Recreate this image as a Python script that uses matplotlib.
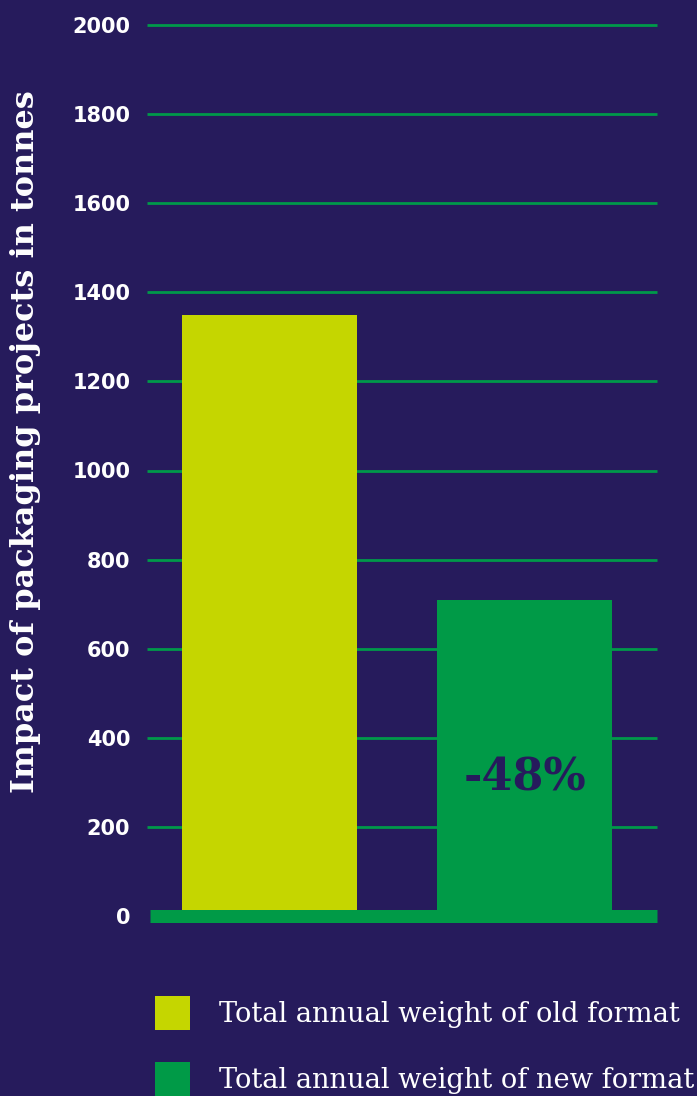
import matplotlib.pyplot as plt

plt.rcParams['font.family'] = 'DejaVu Sans'

# data
categories = ["Total annual weight of old format", "Total annual weight of new format"]
weights = [1350, 710]
bar_colors = ["#C5D600", "#009A47"]
yticks = [0, 200, 400, 600, 800, 1000, 1200, 1400, 1600, 1800, 2000]
change_label = "-48%"

bg = "#261B5C"
grid_green = "#00994A"

W, H = 697, 1096
fig = plt.figure(figsize=(W / 100, H / 100), dpi=100, facecolor=bg)

# axes box in pixel coords: x 147..657, y 25 (2000) .. 916 (0)
ax = fig.add_axes([147 / W, 1 - 916 / H, 510 / W, (916 - 25) / H])
ax.set_facecolor(bg)
ax.set_ylim(0, 2000)
ax.set_xlim(-0.482, 1.518)

for t in yticks[1:]:
    ax.axhline(t, color=grid_green, lw=2.0, zorder=1, clip_on=False,
               solid_capstyle="butt")

x = list(range(len(weights)))
bars = ax.bar(x, weights, width=0.686, color=bar_colors, zorder=2)

# thick baseline
ax.axhline(0, xmin=3 / 510, color="#009A47", lw=13 * 0.72, zorder=3, clip_on=False,
           solid_capstyle="butt")

ax.text(1, 310, change_label, ha="center", va="center", color=bg,
        fontsize=32, fontweight="bold", family="DejaVu Serif", zorder=4)

ax.set_yticks(yticks)
ax.set_yticklabels([str(t) for t in yticks], fontsize=15, fontweight="bold", color="white")
ax.tick_params(axis="y", length=0, pad=12)
ax.set_xticks([])
for s in ax.spines.values():
    s.set_visible(False)

fig.text(26 / W, 1 - 442 / H, "Impact of packaging projects in tonnes", rotation=90,
         ha="center", va="center", color="white", fontsize=23, fontweight="bold",
         family="DejaVu Serif")

leg = fig.legend(bars, categories, loc="upper left",
                 bbox_to_anchor=(155 / W, 1 - 996 / H), frameon=False,
                 borderpad=0, borderaxespad=0,
                 handlelength=1.29, handleheight=1.56, handletextpad=1.05,
                 labelspacing=1.15, prop={"family": "DejaVu Serif", "size": 19.6})
for txt in leg.get_texts():
    txt.set_color("white")

fig.savefig("out.png", dpi=100, facecolor=bg)
